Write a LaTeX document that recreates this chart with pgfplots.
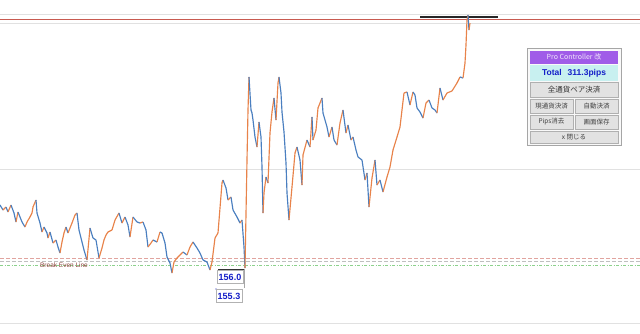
\documentclass[border=0pt]{standalone}
\usepackage{pgfplots}
\usepackage{pgfplotstable}
\pgfplotsset{compat=1.18}
\usepackage{fontspec}
\setmainfont{Liberation Sans}
\newfontfamily\cjk{Noto Sans CJK JP}
\definecolor{cblue}{RGB}{74,127,192}
\definecolor{corange}{RGB}{232,131,74}
\definecolor{redline}{RGB}{200,90,80}
\definecolor{glight}{RGB}{225,225,225}
\definecolor{purp}{RGB}{160,92,232}
\definecolor{cyanbg}{RGB}{200,240,240}
\definecolor{btn}{RGB}{226,226,226}
\definecolor{btnb}{RGB}{176,176,176}
\definecolor{lblue}{RGB}{20,30,200}
\pgfplotstableread{
x y c
0 205 0
3 210 1
6 207 0
8 212 1
11 205 0
14 213 0
16 222 1
18 212 0
22 222 0
25 227 1
27 222 1
30 217 1
32 213 1
33 207 1
36 200 0
37 213 0
40 223 0
42 232 1
44 227 0
47 233 0
48 238 1
50 232 0
53 243 1
56 240 0
58 247 0
60 253 1
62 242 1
64 233 1
66 227 0
68 233 1
72 223 1
75 215 1
77 213 0
79 230 0
82 242 0
84 250 0
87 260 1
90 228 0
93 238 0
96 240 0
99 258 1
102 248 1
104 240 1
106 235 1
108 232 1
112 230 1
115 220 1
119 213 0
122 223 1
125 217 0
128 225 0
130 237 1
133 217 0
137 222 0
140 223 1
143 222 0
146 230 0
148 247 1
151 243 1
153 240 0
157 242 1
160 232 0
162 233 0
165 243 0
167 257 0
170 263 0
172 273 1
174 262 1
177 258 1
180 255 1
183 252 0
187 255 1
190 247 1
193 242 0
197 248 0
200 253 0
203 260 0
207 262 0
210 270 1
212 262 1
215 238 1
218 233 1
222 183 1
223 180 0
226 188 0
228 200 1
231 197 0
233 210 0
237 217 0
240 223 1
242 220 0
244 247 0
245 268 1
247 160 1
248 110 1
249 77 0
251 110 0
252 113 0
253 120 0
255 137 0
257 147 1
259 122 0
261 137 0
262 167 0
263 213 1
264 193 1
266 177 0
268 183 1
270 133 1
272 112 1
274 98 0
276 120 1
278 83 1
279 77 0
281 93 0
282 112 0
284 132 0
286 163 0
287 193 0
289 220 1
292 187 1
295 153 1
297 147 0
300 160 0
302 185 1
303 155 1
307 140 0
310 147 1
312 117 0
313 140 1
316 130 1
318 108 1
322 98 0
323 113 0
327 127 0
329 137 1
332 127 0
334 140 0
337 145 1
340 123 1
343 110 0
346 133 1
348 125 0
351 140 1
353 137 0
356 150 0
358 157 0
362 160 0
365 180 1
367 173 0
369 207 1
372 178 1
375 160 0
377 185 1
380 180 0
383 192 1
387 177 1
390 167 1
393 150 1
397 137 1
400 127 1
402 110 1
404 93 1
407 92 0
410 105 1
413 92 0
415 95 0
417 108 0
420 112 0
423 118 1
426 103 1
429 100 0
432 108 0
435 110 0
437 113 1
440 88 0
443 100 1
447 93 1
452 91 1
457 83 1
460 77 0
463 78 1
465 63 1
466 45 1
467 20 1
468 15 0
469 30 1
470 23 0
}\pricedata
\begin{document}
\begin{tikzpicture}
\begin{axis}[
  width=640pt, height=333pt, scale only axis,
  xmin=0, xmax=640, ymin=0, ymax=333, y dir=reverse,
  axis line style={draw=none}, ticks=none,
  axis background/.style={fill=white},
  clip=true,
]
% horizontal reference lines
\addplot[glight, line width=0.4pt] coordinates {(0,14) (640,14)};
\addplot[glight, line width=0.4pt] coordinates {(0,23) (640,23)};
\addplot[redline, line width=0.6pt] coordinates {(0,19) (640,19)};
\addplot[black!85, line width=1.3pt] coordinates {(420,17) (498,17)};
\addplot[glight, line width=0.5pt] coordinates {(0,169) (640,169)};
\addplot[glight, line width=0.6pt] coordinates {(0,323) (640,323)};
\addplot[redline!55, line width=0.6pt, dash pattern=on 4pt off 2pt] coordinates {(0,258) (640,258)};
\addplot[gray!50, line width=0.6pt, dash pattern=on 4pt off 2pt] coordinates {(0,261) (640,261)};
\addplot[green!60!black!45, line width=0.6pt, dash pattern=on 3pt off 1.5pt on 1pt off 1.5pt] coordinates {(0,265) (640,265)};
% price
\addplot[mesh, shader=flat corner, point meta=explicit, point meta min=0, point meta max=1,
  colormap={ud}{rgb255=(74,127,192) rgb255=(232,131,74)}, line width=1.15pt]
  table[x=x, y=y, meta=c] {\pricedata};
% break even text
\node[text=redline!70!black, font=\fontsize{6.5}{7}\selectfont, anchor=center] at (axis cs:64,265.5) {Break Even Line};
% price labels
\draw[black!80, line width=0.5pt] (axis cs:218,269) -- (axis cs:244,269);
\draw[gray!70, line width=0.5pt] (axis cs:244.5,269) -- (axis cs:244.5,288);
\draw[fill=white, draw=gray!60, line width=0.4pt] (axis cs:217,270.5) rectangle (axis cs:243,283.5);
\node[text=lblue, font=\bfseries\fontsize{9}{10}\selectfont] at (axis cs:230,277) {156.0};
\fill[lblue] (axis cs:216,289) circle (0.6pt);
\draw[fill=white, draw=gray!60, line width=0.4pt] (axis cs:216,289.5) rectangle (axis cs:242,302);
\node[text=lblue, font=\bfseries\fontsize{9}{10}\selectfont] at (axis cs:229,296) {155.3};
% panel
\draw[fill=white!95!gray, draw=gray!70, line width=0.6pt] (axis cs:527,48) rectangle (axis cs:621,145);
\fill[purp] (axis cs:530,50.5) rectangle (axis cs:618,64);
\node[text=white!85!purp, font=\cjk\fontsize{7}{8}\selectfont] at (axis cs:574,57.3) {Pro Controller 改};
\fill[cyanbg] (axis cs:530,65) rectangle (axis cs:618,81);
\node[text=lblue, font=\bfseries\fontsize{8.5}{9}\selectfont] at (axis cs:574,73.5) {Total\hspace{6pt}311.3pips};
\draw[fill=btn, draw=btnb, line width=0.4pt] (axis cs:530,82) rectangle (axis cs:618,97);
\node[text=black!80, font=\cjk\fontsize{7.5}{8}\selectfont] at (axis cs:574,89.5) {全通貨ペア決済};
\draw[fill=btn, draw=btnb, line width=0.4pt] (axis cs:530,99) rectangle (axis cs:573,113);
\node[text=black!75, font=\cjk\fontsize{6.5}{7}\selectfont] at (axis cs:551.5,106) {現通貨決済};
\draw[fill=btn, draw=btnb, line width=0.4pt] (axis cs:575,99) rectangle (axis cs:618,113);
\node[text=black!75, font=\cjk\fontsize{6.5}{7}\selectfont] at (axis cs:596.5,106) {自動決済};
\draw[fill=btn, draw=btnb, line width=0.4pt] (axis cs:530,115) rectangle (axis cs:573,129);
\node[text=black!75, font=\cjk\fontsize{6.5}{7}\selectfont] at (axis cs:551.5,122) {Pips消去};
\draw[fill=btn, draw=btnb, line width=0.4pt] (axis cs:575,115) rectangle (axis cs:618,129);
\node[text=black!75, font=\cjk\fontsize{6.5}{7}\selectfont] at (axis cs:596.5,122) {画面保存};
\draw[fill=btn, draw=btnb, line width=0.4pt] (axis cs:530,131) rectangle (axis cs:618,143);
\node[text=black!75, font=\cjk\fontsize{6.5}{7}\selectfont] at (axis cs:574,137) {x 閉じる};
\end{axis}
\end{tikzpicture}
\end{document}
